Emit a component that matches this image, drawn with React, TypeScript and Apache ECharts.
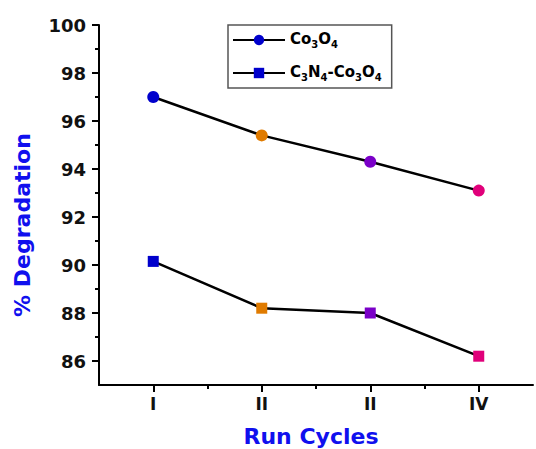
import React, { useEffect, useRef } from "react";
import * as echarts from "echarts";

const cycleLabels = ["I", "II", "II", "IV"];
const co3o4 = [97.0, 95.4, 94.3, 93.1];
const c3n4co3o4 = [90.15, 88.2, 88.0, 86.2];
const pointColors = ["#0000cc", "#e07b00", "#7a00c8", "#e0007a"];
const yMajorTicks = [86, 88, 90, 92, 94, 96, 98, 100];
const yMinorTicks = [87, 89, 91, 93, 95, 97, 99];
const xMajorTicks = [1, 2, 3, 4];
const xMinorTicks = [1.5, 2.5, 3.5];

const FONT = "'DejaVu Sans', Arial, sans-serif";

export default function App() {
  const ref = useRef<HTMLDivElement>(null);
  useEffect(() => {
    const chart = echarts.init(ref.current!, null, { renderer: "svg" });
    const mk = (vals: number[]) =>
      vals.map((v, i) => ({
        value: [i + 1, v],
        itemStyle: { color: pointColors[i] },
      }));
    const common = {
      type: "line",
      lineStyle: { color: "#000", width: 2.5 },
      itemStyle: { color: pointColors[0] },
      z: 3,
    };
    chart.setOption({
      animation: false,
      backgroundColor: "#fff",
      grid: { left: 99, right: 3, top: 25, bottom: 64, outerBoundsMode: "none", containLabel: false },
      legend: {
        left: 228,
        top: 25,
        orient: "vertical",
        borderColor: "#555",
        borderWidth: 1.5,
        padding: [0, 10, 6, 4],
        itemGap: 9,
        itemWidth: 52,
        itemHeight: 13,
        data: ["Co3O4", "C3N4-Co3O4"],
        formatter: (name: string) =>
          name === "Co3O4"
            ? "{n|Co}{s|3}{n|O}{s|4}"
            : "{n|C}{s|3}{n|N}{s|4}{n|-Co}{s|3}{n|O}{s|4}",
        textStyle: {
          rich: {
            n: { fontFamily: FONT, fontWeight: "bold", fontSize: 15, color: "#000", lineHeight: 18, verticalAlign: "top" },
            s: { fontFamily: FONT, fontWeight: "bold", fontSize: 10, color: "#000", lineHeight: 10, verticalAlign: "bottom", padding: [14, 0, 0, 0] },
          },
        },
      },
      xAxis: [
        {
          type: "value",
          min: 0.5,
          max: 4.5,
          name: "Run Cycles",
          nameLocation: "middle",
          nameGap: 40,
          nameTextStyle: { fontFamily: FONT, fontWeight: "bold", fontSize: 22, color: "#1010ee", padding: [0, 10, 0, 0] },
          axisLine: { show: true, lineStyle: { color: "#000", width: 2 } },
          axisTick: { show: true, customValues: xMajorTicks, length: 7, lineStyle: { color: "#000", width: 2 } },
          axisLabel: {
            customValues: xMajorTicks,
            margin: 10,
            formatter: (v: number) => cycleLabels[Math.round(v) - 1] ?? "",
            fontFamily: FONT,
            fontWeight: "bold",
            fontSize: 17,
            color: "#111",
          },
          splitLine: { show: false },
        },
        {
          type: "value",
          min: 0.5,
          max: 4.5,
          position: "bottom",
          axisLine: { show: false },
          axisTick: { show: true, customValues: xMinorTicks, length: 4, lineStyle: { color: "#000", width: 2 } },
          axisLabel: { show: false },
          splitLine: { show: false },
        },
      ],
      yAxis: [
        {
          type: "value",
          min: 85,
          max: 100,
          name: "% Degradation",
          nameLocation: "middle",
          nameGap: 66,
          nameRotate: 90,
          nameTextStyle: { fontFamily: FONT, fontWeight: "bold", fontSize: 22, color: "#1010ee", padding: [0, 40, 0, 0] },
          axisLine: { show: true, lineStyle: { color: "#000", width: 2 } },
          axisTick: { show: true, customValues: yMajorTicks, length: 7, lineStyle: { color: "#000", width: 2 } },
          axisLabel: {
            customValues: yMajorTicks,
            margin: 13,
            fontFamily: FONT,
            fontWeight: "bold",
            fontSize: 18,
            color: "#111",
          },
          splitLine: { show: false },
        },
        {
          type: "value",
          min: 85,
          max: 100,
          position: "left",
          axisLine: { show: false },
          axisTick: { show: true, customValues: yMinorTicks, length: 4, lineStyle: { color: "#000", width: 2 } },
          axisLabel: { show: false },
          splitLine: { show: false },
        },
      ],
      series: [
        { ...common, name: "Co3O4", symbol: "circle", symbolSize: 12, data: mk(co3o4) },
        { ...common, name: "C3N4-Co3O4", symbol: "rect", symbolSize: 11, data: mk(c3n4co3o4) },
      ],
    });
    return () => chart.dispose();
  }, []);
  return <div ref={ref} style={{ width: 536, height: 449, position: "absolute", left: 0, top: 0 }} />;
}
